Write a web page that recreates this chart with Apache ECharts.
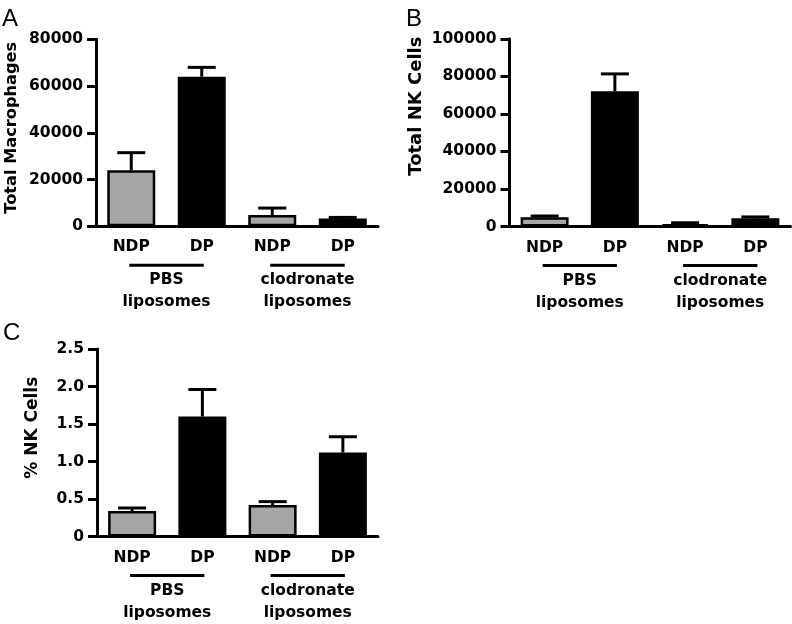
<!DOCTYPE html>
<html>
<head>
<meta charset="utf-8">
<script src="https://cdn.jsdelivr.net/npm/echarts@6/dist/echarts.min.js"></script>
<style>html,body{margin:0;padding:0;background:#fff;}#c{width:792px;height:624px;}</style>
</head>
<body>
<div id="c"></div>
<script>
// ---- data ----
const categories = ['NDP', 'DP', 'NDP', 'DP'];
const groupLabels = ['PBS\nliposomes', 'clodronate\nliposomes'];
const groupSpans = [[0, 1], [2, 3]];
const macMean = [24000, 64000, 4800, 3300];
const macErr = [7500, 4000, 3000, 500];
const nkMean = [4900, 72000, 1300, 4400];
const nkErr = [700, 9300, 700, 700];
const pctMean = [0.34, 1.60, 0.42, 1.12];
const pctErr = [0.04, 0.36, 0.045, 0.21];
const macTicks = [0, 80000, 20000];
const nkTicks = [0, 100000, 20000];
const pctTicks = [0, 2.5, 0.5];
const panelNames = ['Total Macrophages', 'Total NK Cells', '% NK Cells'];
const panelLetters = ['A', 'B', 'C'];

// ---- styles ----
const FONT = '"DejaVu Sans", Verdana, sans-serif';
const LFONT = '"Liberation Sans", Arial, Helvetica, sans-serif';
const FS = 15.5;
const GRAY = '#a6a6a6';
const barColors = [GRAY, '#000', GRAY, '#000'];
const LW = 3;

const grids = [
  {left: 96, top: 39.3, width: 282, height: 187},
  {left: 509.5, top: 38.8, width: 281, height: 187.7},
  {left: 97, top: 349, width: 281, height: 187.5}
];
const nameCfg = [
  {gap: 76, shift: 10, size: 16.2},
  {gap: 84, shift: 53, size: 18},
  {gap: 56, shift: 30, size: 17}
];
const panels = [
  {mean: macMean, err: macErr, ticks: macTicks, fmt: v => String(v)},
  {mean: nkMean, err: nkErr, ticks: nkTicks, fmt: v => String(v)},
  {mean: pctMean, err: pctErr, ticks: pctTicks, fmt: v => v === 0 ? '0' : v.toFixed(1)}
];

const xAxis = [], yAxis = [], series = [];
panels.forEach((p, i) => {
  xAxis.push({
    type: 'category', gridIndex: i, data: categories,
    axisLine: {lineStyle: {color: '#000', width: LW}},
    axisTick: {alignWithLabel: true, length: 8, lineStyle: {color: '#000', width: LW}},
    axisLabel: {color: '#000', fontFamily: FONT, fontWeight: 'bold', fontSize: FS, margin: 13}
  });
  yAxis.push({
    type: 'value', gridIndex: i, min: p.ticks[0], max: p.ticks[1], interval: p.ticks[2],
    splitLine: {show: false},
    axisLine: {show: true, lineStyle: {color: '#000', width: LW}},
    axisTick: {show: true, length: 9, lineStyle: {color: '#000', width: LW}},
    axisLabel: {color: '#000', fontFamily: FONT, fontWeight: 'bold', fontSize: FS, margin: 13, formatter: p.fmt},
    name: panelNames[i], nameLocation: 'middle', nameRotate: 90, nameGap: nameCfg[i].gap,
    nameTextStyle: {color: '#000', fontFamily: FONT, fontWeight: 'bold', fontSize: nameCfg[i].size,
      padding: [0, 0, 0, nameCfg[i].shift]}
  });
  series.push({
    type: 'bar', xAxisIndex: i, yAxisIndex: i, barWidth: 48,
    data: p.mean.map((v, k) => ({value: v, itemStyle: {color: barColors[k]}})),
    itemStyle: {borderColor: '#000', borderWidth: 2.5},
    silent: true, animation: false
  });
  series.push({
    type: 'custom', xAxisIndex: i, yAxisIndex: i, clip: false, silent: true, animation: false,
    data: p.mean.map((v, k) => [k, v, v + p.err[k]]),
    z: 3,
    renderItem: (params, api) => {
      const a = api.coord([api.value(0), api.value(1)]);
      const b = api.coord([api.value(0), api.value(2)]);
      const st = {stroke: '#000', lineWidth: LW};
      return {type: 'group', children: [
        {type: 'line', shape: {x1: a[0], y1: a[1], x2: b[0], y2: b[1]}, style: st},
        {type: 'line', shape: {x1: b[0] - 14, y1: b[1], x2: b[0] + 14, y2: b[1]}, style: st}
      ]};
    }
  });
  series.push({
    type: 'custom', xAxisIndex: i, yAxisIndex: i, clip: false, silent: true, animation: false,
    data: groupSpans.map((s, k) => [s[0], s[1], k]),
    renderItem: (params, api) => {
      const a = api.coord([api.value(0), 0]);
      const b = api.coord([api.value(1), 0]);
      const y = a[1] + 39;
      const idx = api.value(2);
      return {type: 'group', children: [
        {type: 'line', shape: {x1: a[0] - 2, y1: y, x2: b[0] + 2, y2: y}, style: {stroke: '#000', lineWidth: LW}},
        {type: 'text', x: (a[0] + b[0]) / 2, y: y + 4, style: {
          text: groupLabels[idx], fill: '#000', font: 'bold ' + FS + 'px ' + FONT,
          align: 'center', verticalAlign: 'top', lineHeight: 22}}
      ]};
    }
  });
});

const titles = [
  {text: panelLetters[0], left: 2, top: 7},
  {text: panelLetters[1], left: 406, top: 7},
  {text: panelLetters[2], left: 3, top: 321}
].map(t => Object.assign(t, {padding: 0, textStyle: {fontFamily: LFONT, fontWeight: 'normal', fontSize: 24, color: '#000'}}));

const chart = echarts.init(document.getElementById('c'), null, {renderer: 'canvas'});
chart.setOption({
  animation: false,
  backgroundColor: '#fff',
  title: titles,
  grid: grids,
  xAxis: xAxis,
  yAxis: yAxis,
  series: series
});
</script>
</body>
</html>
